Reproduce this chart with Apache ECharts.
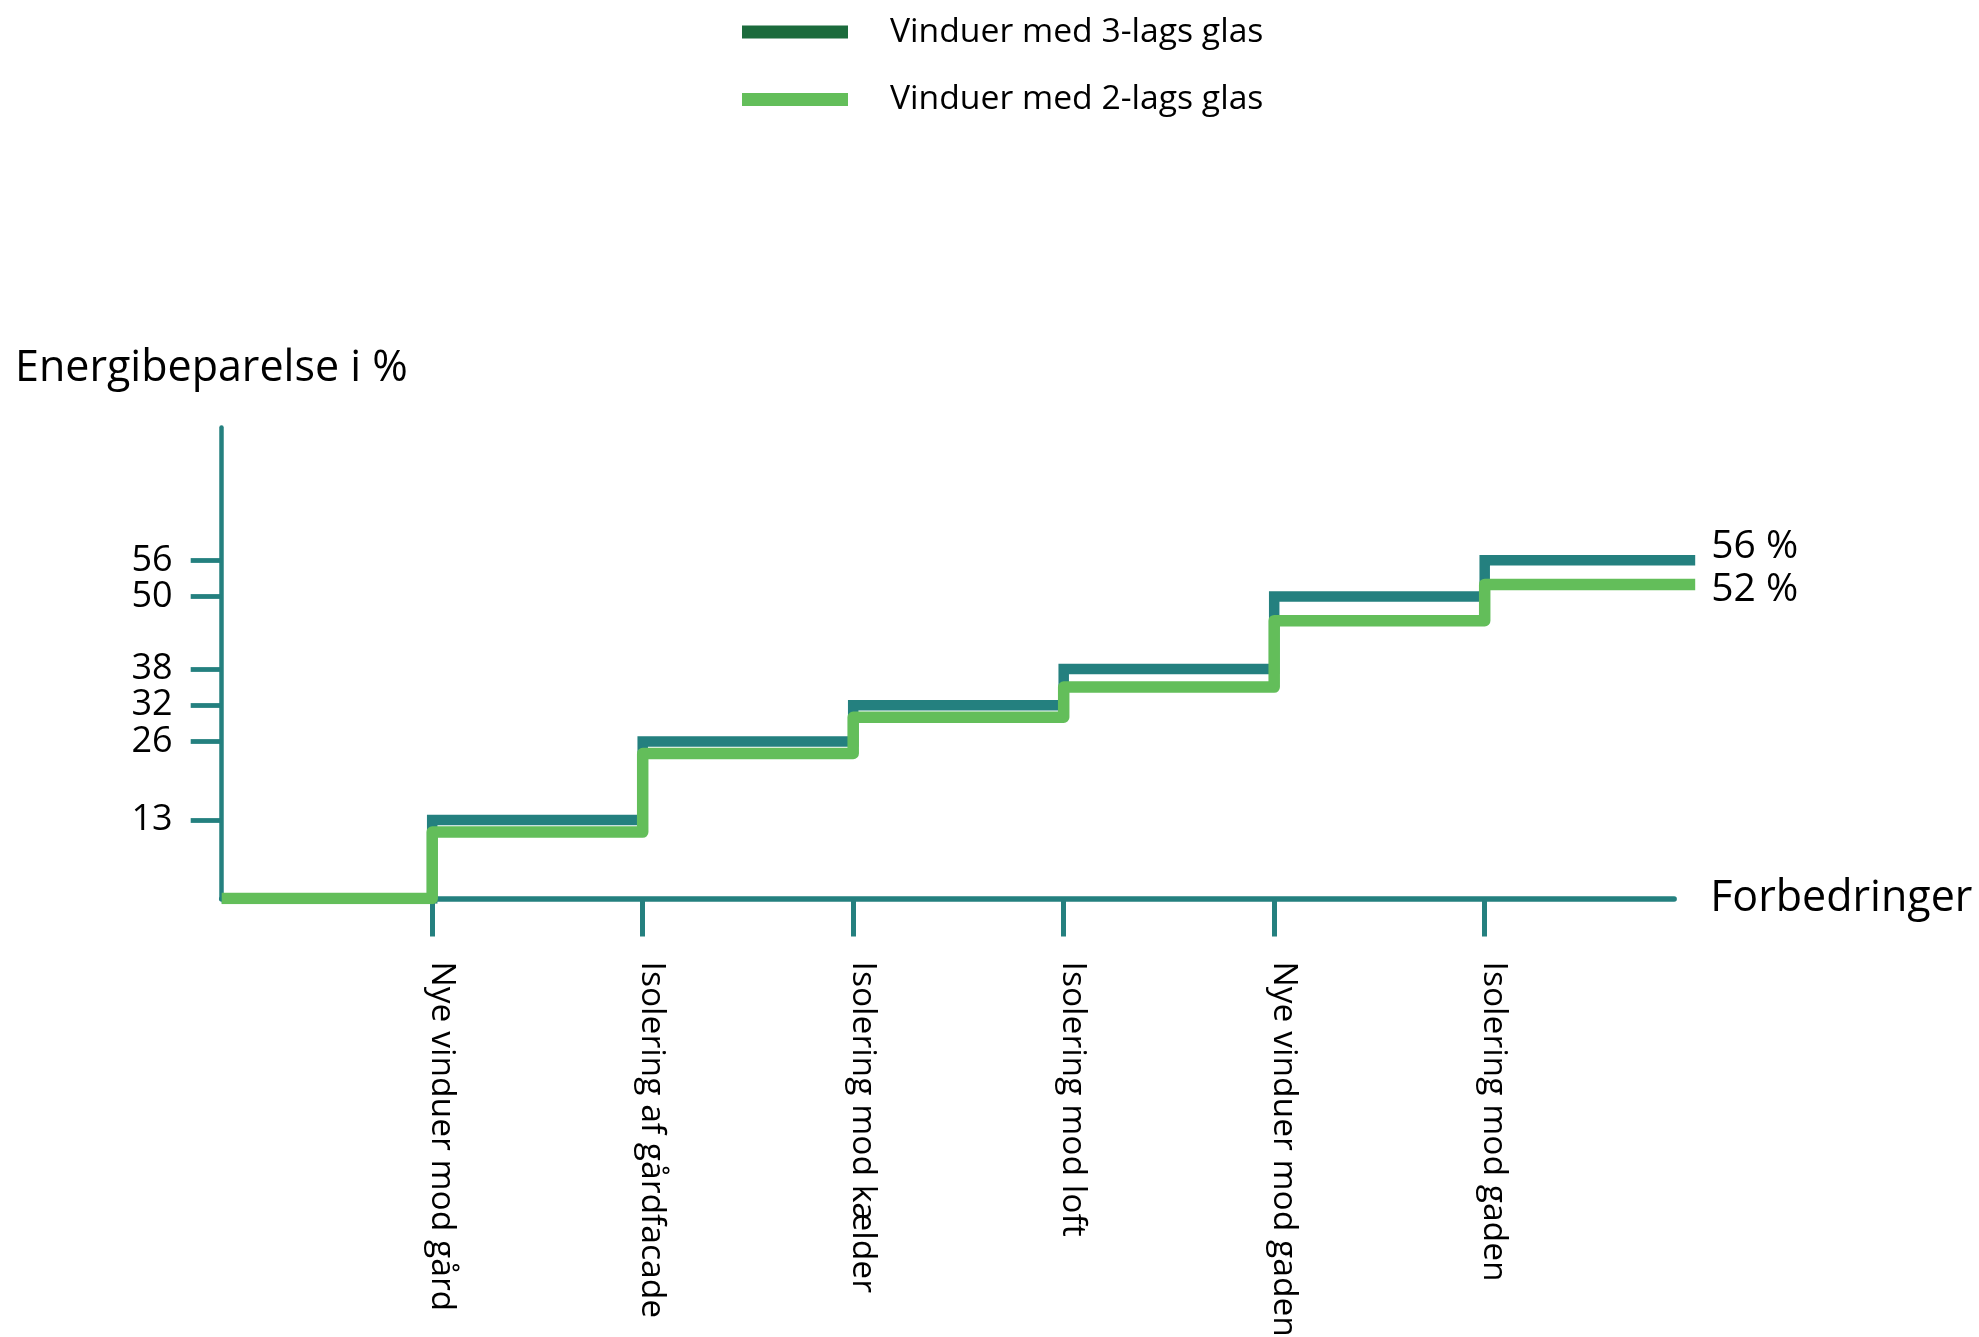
<!DOCTYPE html>
<html>
<head>
<meta charset="utf-8">
<script src="https://cdn.jsdelivr.net/npm/echarts@6/dist/echarts.min.js"></script>
<style>
  html, body { margin: 0; padding: 0; background: #fff; }
  #chart { width: 1979px; height: 1337px; }
</style>
</head>
<body>
<div id="chart"></div>
<script>
// Improvement steps along the x axis (positions 1..6)
const categories = [
  'Nye vinduer mod gård',
  'Isolering af gårdfacade',
  'Isolering mod kælder',
  'Isolering mod loft',
  'Nye vinduer mod gaden',
  'Isolering mod gaden'
];
// Cumulative energy saving in % after each step (index 0 = starting point)
const savingsTriple = [0, 13, 26, 32, 38, 50, 56];
const savingsDouble = [0, 11, 24, 30, 35, 46, 52];
// Marked values on the y axis
const yTickValues = [13, 26, 32, 38, 50, 56];
const stepPositions = [1, 2, 3, 4, 5, 6];

const seriesNames = ['Vinduer med 3-lags glas', 'Vinduer med 2-lags glas'];

const TEAL = '#24807f';
const GREEN = '#63be5a';
const DARK_GREEN = '#1b6b3c';
const FONT = '"Open Sans", "Noto Sans", sans-serif';

// step points: each value holds until the next improvement, last value runs one step further
function toPoints(values) {
  const pts = values.map((v, i) => [i, v]);
  pts.push([values.length, values[values.length - 1]]);
  return pts;
}

// Two grids sharing the same scale: grid 0 carries the visible axes (x axis stops a bit
// short of the last step), grid 1 carries the step lines, which run one full step further.
const PX_LEFT = 221.7;
const PX_TOP = 427.4;
const PX_BOTTOM = 438.5;
const AXIS_X_MAX = 6.9;
const LINE_X_MAX = 7;
const PX_PER_STEP = 210.5;
const Y_MAX = 78;

const chart = echarts.init(document.getElementById('chart'), null, { renderer: 'canvas' });

const labelFont = { fontFamily: FONT, color: '#000' };

chart.setOption({
  animation: false,
  backgroundColor: '#ffffff',
  textStyle: { fontFamily: FONT, color: '#000' },
  title: {
    text: 'Energibeparelse i %',
    left: 15,
    top: 345,
    padding: 0,
    textStyle: { fontFamily: FONT, fontSize: 43, fontWeight: 'normal', color: '#000', lineHeight: 48 }
  },
  legend: {
    orient: 'vertical',
    left: 742,
    top: 12,
    padding: 0,
    selectedMode: false,
    icon: 'rect',
    itemWidth: 106,
    itemHeight: 13,
    itemGap: 27.5,
    textStyle: { fontFamily: FONT, fontSize: 33.7, color: '#000', lineHeight: 40, padding: [0, 0, 0, 37] },
    data: [
      { name: seriesNames[0], itemStyle: { color: DARK_GREEN } },
      { name: seriesNames[1], itemStyle: { color: GREEN } }
    ]
  },
  grid: [
    {
      left: PX_LEFT,
      top: PX_TOP,
      width: AXIS_X_MAX * PX_PER_STEP,
      bottom: PX_BOTTOM,
      containLabel: false,
      outerBoundsMode: 'none'
    },
    {
      left: PX_LEFT,
      top: PX_TOP,
      width: LINE_X_MAX * PX_PER_STEP,
      bottom: PX_BOTTOM,
      containLabel: false,
      outerBoundsMode: 'none'
    }
  ],
  xAxis: [
    {
      gridIndex: 0,
      type: 'value',
      min: 0,
      max: AXIS_X_MAX,
      interval: 1,
      z: 3,
      name: 'Forbedringer',
      nameLocation: 'end',
      nameGap: 36,
      nameTextStyle: Object.assign({ fontSize: 43, verticalAlign: 'middle' }, labelFont),
      axisLine: { show: true, onZero: false, lineStyle: { color: TEAL, width: 5.5 } },
      axisTick: {
        show: true,
        customValues: stepPositions,
        length: 38,
        lineStyle: { color: TEAL, width: 5 }
      },
      axisLabel: Object.assign({
        show: true,
        customValues: stepPositions,
        hideOverlap: false,
        rotate: -90,
        margin: 63,
        fontSize: 33.6,
        verticalAlign: 'bottom',
        lineHeight: 18,
        formatter: v => categories[Math.round(v) - 1] || ''
      }, labelFont),
      splitLine: { show: false }
    },
    {
      gridIndex: 1,
      type: 'value',
      min: 0,
      max: LINE_X_MAX,
      show: false
    }
  ],
  yAxis: [
    {
      gridIndex: 0,
      type: 'value',
      min: 0,
      max: Y_MAX,
      z: 3,
      axisLine: { show: true, onZero: false, lineStyle: { color: TEAL, width: 4.5 } },
      axisTick: {
        show: true,
        customValues: yTickValues,
        length: 31,
        lineStyle: { color: TEAL, width: 4.8 }
      },
      axisLabel: Object.assign({
        show: true,
        customValues: yTickValues,
        hideOverlap: false,
        margin: 49,
        fontSize: 36
      }, labelFont),
      splitLine: { show: false }
    },
    {
      gridIndex: 1,
      type: 'value',
      min: 0,
      max: Y_MAX,
      show: false
    }
  ],
  series: [
    {
      name: seriesNames[0],
      type: 'line',
      xAxisIndex: 1,
      yAxisIndex: 1,
      step: 'end',
      showSymbol: false,
      symbol: 'none',
      color: TEAL,
      itemStyle: { color: TEAL },
      lineStyle: { color: TEAL, width: 10.5, join: 'miter', cap: 'butt' },
      emphasis: { disabled: true },
      data: toPoints(savingsTriple),
      endLabel: Object.assign({
        show: true,
        formatter: p => p.value[1] + ' %',
        distance: 16,
        offset: [0, -13],
        fontSize: 39
      }, labelFont)
    },
    {
      name: seriesNames[1],
      type: 'line',
      xAxisIndex: 1,
      yAxisIndex: 1,
      step: 'end',
      showSymbol: false,
      symbol: 'none',
      color: GREEN,
      itemStyle: { color: GREEN },
      lineStyle: { color: GREEN, width: 11.5, join: 'round', cap: 'butt' },
      emphasis: { disabled: true },
      data: toPoints(savingsDouble),
      endLabel: Object.assign({
        show: true,
        formatter: p => p.value[1] + ' %',
        distance: 16,
        offset: [0, 5],
        fontSize: 39
      }, labelFont)
    }
  ]
});
</script>
</body>
</html>
